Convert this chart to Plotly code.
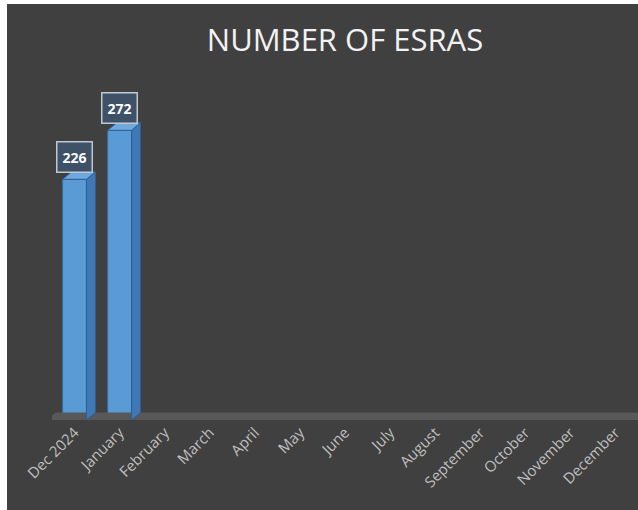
import plotly.graph_objects as go

categories = ["Dec 2024", "January", "February", "March", "April", "May", "June",
              "July", "August", "September", "October", "November", "December"]
values = [226, 272]

W, H = 638, 510
L, R, T, B = 52, 0, 60, 90
YMAX = 338
BAR_W = 0.53
DX = 0.2      # depth offset in category units
DY = 7        # depth offset in value units

fig = go.Figure()

n = len(categories)
# floor band (3D floor)
fig.add_trace(go.Scatter(
    x=[-0.5 - 0.12, -0.5 + DX - 0.12, n - 0.5 + 1, n - 0.5 + 1, -0.5 - 0.12],
    y=[0, DY, DY, 0, 0],
    fill="toself", fillcolor="#585858", mode="lines",
    line=dict(color="#585858", width=0), hoverinfo="skip", showlegend=False))

# side & top faces of 3D columns
for i, v in enumerate(values):
    xl, xr = i - BAR_W / 2, i + BAR_W / 2
    fig.add_trace(go.Scatter(
        x=[xr, xr + DX, xr + DX, xr, xr], y=[0, DY, v + DY, v, 0],
        fill="toself", fillcolor="#3F78B5", mode="lines",
        line=dict(color="#2F5F93", width=1), hoverinfo="skip", showlegend=False))
    fig.add_trace(go.Scatter(
        x=[xl, xl + DX, xr + DX, xr, xl], y=[v, v + DY, v + DY, v, v],
        fill="toself", fillcolor="#6FA8DC", mode="lines",
        line=dict(color="#2F5F93", width=1), hoverinfo="skip", showlegend=False))

fig.add_trace(go.Bar(
    x=list(range(len(values))), y=values, width=BAR_W,
    marker=dict(color="#5B9BD5", line=dict(color="#2F6DA8", width=1)),
    hoverinfo="skip", showlegend=False))

for i, v in enumerate(values):
    fig.add_annotation(
        x=i, y=v, text=f"<b>{v}</b>", showarrow=False, yshift=22,
        font=dict(family="Open Sans, DejaVu Sans, sans-serif", size=14, color="white"),
        bgcolor="#3E5166", bordercolor="#BFC8D2", borderwidth=1.5, borderpad=5)

fig.update_layout(
    width=W, height=H,
    margin=dict(l=L, r=R, t=T, b=B),
    paper_bgcolor="#404040", plot_bgcolor="#404040",
    title=dict(text="NUMBER OF ESRAS", x=345 / W, xanchor="center",
               y=1 - 40 / H, yanchor="middle",
               font=dict(family="Open Sans, sans-serif", size=31, color="#F2F2F2")),
    xaxis=dict(range=[-0.5, n - 0.5], tickmode="array",
               tickvals=list(range(n)), ticktext=categories,
               tickangle=-45, showgrid=False, zeroline=False, showline=False,
               ticks="", tickfont=dict(family="Open Sans, sans-serif", size=15, color="#BFBFBF")),
    yaxis=dict(range=[0, YMAX], visible=False, showgrid=False, zeroline=False),
    shapes=[
        dict(type="rect", xref="paper", yref="paper",
             x0=-L / (W - L - R), x1=(7 - L) / (W - L - R),
             y0=-B / (H - T - B), y1=1 + T / (H - T - B),
             fillcolor="white", line=dict(width=0), layer="above"),
        dict(type="rect", xref="paper", yref="paper",
             x0=-L / (W - L - R), x1=1 + R / (W - L - R),
             y0=1 + (T - 4) / (H - T - B), y1=1 + T / (H - T - B),
             fillcolor="white", line=dict(width=0), layer="above"),
    ],
)

fig.write_html("out.html", config={"displayModeBar": False},
               post_script="document.body.style.margin='0';document.body.style.overflow='hidden';")
